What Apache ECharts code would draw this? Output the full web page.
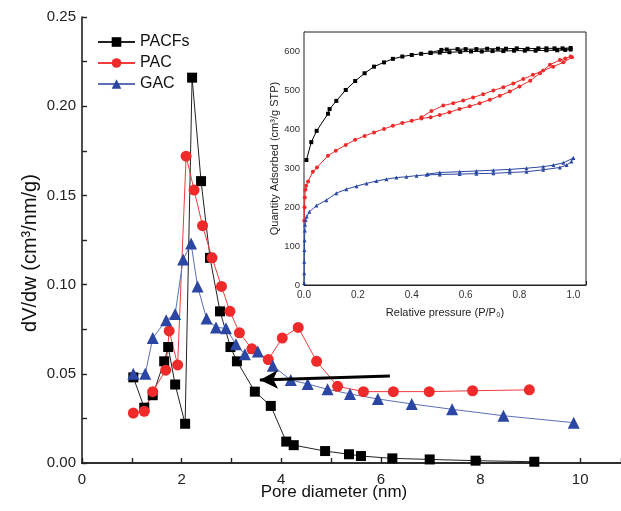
<!DOCTYPE html>
<html><head><meta charset="utf-8">
<script src="https://cdn.jsdelivr.net/npm/echarts@6/dist/echarts.min.js"></script>
<style>html,body{margin:0;padding:0;background:#fff}#c{width:621px;height:511px}</style>
</head><body><div id="c"></div>
<script>
// Main chart: pore size distribution
const pacfsX = [1.03,1.25,1.42,1.65,1.73,1.87,2.07,2.21,2.39,2.57,2.77,2.98,3.11,3.47,3.79,4.10,4.25,4.88,5.36,5.60,6.23,6.98,7.90,9.08];
const pacfsY = [0.048,0.031,0.038,0.057,0.065,0.044,0.022,0.216,0.158,0.115,0.085,0.065,0.057,0.040,0.032,0.012,0.010,0.0067,0.0049,0.0039,0.0026,0.002,0.0013,0.0007];
const pacX = [1.03,1.25,1.42,1.68,1.75,1.92,2.09,2.25,2.42,2.61,2.80,2.97,3.16,3.41,3.74,4.02,4.34,4.71,5.13,5.65,6.25,6.97,7.84,8.98];
const pacY = [0.028,0.029,0.040,0.052,0.074,0.055,0.172,0.153,0.133,0.115,0.099,0.085,0.073,0.064,0.058,0.070,0.076,0.057,0.043,0.040,0.040,0.040,0.0405,0.041];
const gacX = [1.03,1.27,1.42,1.69,1.87,2.03,2.19,2.32,2.50,2.69,2.89,3.09,3.27,3.53,3.83,4.19,4.53,4.93,5.38,5.94,6.62,7.43,8.46,9.87];
const gacY = [0.050,0.050,0.070,0.080,0.0835,0.114,0.123,0.099,0.081,0.076,0.0755,0.0665,0.061,0.0625,0.0545,0.0465,0.0443,0.0413,0.0387,0.0359,0.0331,0.0301,0.0265,0.0226];
const arrowFrom = [6.18, 0.0488];
const arrowTo = [3.57, 0.0465];

// Inset: N2 isotherms
const insPacfsAdsX = [0.009,0.027,0.047,0.089,0.095,0.12,0.155,0.19,0.225,0.26,0.297,0.33,0.365,0.40,0.435,0.47,0.504,0.54,0.58,0.62,0.66,0.70,0.74,0.78,0.82,0.86,0.90,0.94,0.97,0.99];
const insPacfsAdsY = [321,367,396,440,452,473,501,524,544,561,572,581,587,591,594,596,597,598,599,600,600,601,601,602,602,602,603,603,604,605];
const insPacfsDesX = [0.99,0.96,0.93,0.90,0.87,0.83,0.79,0.75,0.72,0.68,0.64,0.60,0.57,0.53,0.51,0.47];
const insPacfsDesY = [609,608,608,608,608,607,608,607,607,607,606,606,606,605,604,597];
const insPacAdsX = [0.001,0.002,0.003,0.005,0.008,0.015,0.033,0.048,0.089,0.118,0.155,0.19,0.225,0.26,0.297,0.33,0.365,0.40,0.436,0.47,0.504,0.54,0.577,0.615,0.652,0.69,0.727,0.764,0.80,0.84,0.876,0.913,0.95,0.97,0.99];
const insPacAdsY = [165,200,225,245,255,266,291,302,332,345,360,373,383,392,401,409,416,422,428,431,437,444,452,459,467,476,486,497,510,525,544,566,578,582,587];
const insPacDesX = [0.995,0.963,0.925,0.888,0.85,0.814,0.777,0.74,0.703,0.665,0.628,0.591,0.554,0.517,0.473,0.436];
const insPacDesY = [585,572,561,551,540,529,518,508,500,490,482,474,467,461,447,431];
const insGacAdsX = [0.0005,0.001,0.001,0.0015,0.002,0.003,0.004,0.006,0.01,0.02,0.046,0.083,0.12,0.157,0.195,0.232,0.269,0.306,0.343,0.38,0.418,0.455,0.504,0.578,0.64,0.703,0.764,0.826,0.888,0.95,0.975,0.993,1.0];
const insGacAdsY = [5,30,60,90,115,140,155,167,176,188,204,218,236,246,254,261,267,272,276,278,281,283,284,285,286,287,289,291,296,302,308,317,326];
const insGacDesX = [1.0,0.963,0.926,0.888,0.826,0.764,0.703,0.64,0.578,0.504,0.46];
const insGacDesY = [326,314,308,304,300,297,295,293,291,289,285];

const zip = (a, b) => a.map((v, i) => [v, b[i]]);
const BLACK = '#000000', RED = '#ee2a2a', BLUE = '#2b47a3';
const FONT = 'Liberation Sans, Arial, sans-serif';

const chart = echarts.init(document.getElementById('c'), null, {renderer: 'canvas'});

function mainSeries(name, xs, ys, sym, size, color, lineColor) {
  return {
    name, type: 'line', xAxisIndex: 0, yAxisIndex: 0, data: zip(xs, ys),
    symbol: sym, symbolSize: size, showAllSymbol: true,
    itemStyle: {color: color}, lineStyle: {color: lineColor, width: 1},
    emphasis: {disabled: true}, animation: false, z: 3
  };
}
function insetSeries(name, xs, ys, sym, color) {
  return {
    name, type: 'line', xAxisIndex: 2, yAxisIndex: 2, data: zip(xs, ys),
    symbol: sym, symbolSize: 4, showAllSymbol: true,
    itemStyle: {color: color}, lineStyle: {color: color, width: 1},
    emphasis: {disabled: true}, animation: false, z: 12
  };
}

const axisCol = '#222';
chart.setOption({
  animation: false,
  backgroundColor: '#fff',
  textStyle: {fontFamily: FONT},
  grid: [
    {left: 82, top: 17, right: 0, bottom: 48},
    {left: 82, top: 17, right: 0, bottom: 48},
    {left: 304, top: 32, width: 282, height: 253, show: true, backgroundColor: '#fff', borderColor: '#222', borderWidth: 1, z: 10}
  ],
  legend: {
    data: ['PACFs', 'PAC', 'GAC'],
    orient: 'vertical', left: 92, top: 29, itemWidth: 37, itemHeight: 12, itemGap: 5,
    textStyle: {fontSize: 16, color: '#111', fontFamily: FONT},
    selectedMode: false
  },
  xAxis: [
    {type: 'value', gridIndex: 0, min: 0, max: 10.82, interval: 2,
     axisLine: {lineStyle: {color: axisCol, width: 1.6}},
     axisTick: {inside: true, length: 5, lineStyle: {color: axisCol, width: 1.4}},
     minorTick: {show: true, splitNumber: 2, length: 5, lineStyle: {color: axisCol, width: 1.4}},
     axisLabel: {fontSize: 15, color: '#222', margin: 9, showMaxLabel: false,
       formatter: v => (Math.abs(v - Math.round(v)) < 1e-6 ? String(Math.round(v)) : '')},
     splitLine: {show: false}},
    {type: 'value', gridIndex: 1, position: 'top', min: 0, max: 10.82,
     axisLine: {show: true, lineStyle: {color: axisCol, width: 1.6}},
     axisTick: {show: false}, axisLabel: {show: false}, splitLine: {show: false}},
    {type: 'value', gridIndex: 2, min: 0, max: 1.047, interval: 0.2,
     axisLine: {lineStyle: {color: axisCol, width: 1}},
     axisTick: {inside: true, length: 4, lineStyle: {color: axisCol}},
     minorTick: {show: true, splitNumber: 2, length: 2, lineStyle: {color: axisCol}},
     axisLabel: {fontSize: 10, color: '#333', margin: 5, showMaxLabel: false,
       formatter: v => (v <= 1.0001 ? v.toFixed(1) : '')},
     splitLine: {show: false},
     name: 'Relative pressure (P/P\u2080)', nameLocation: 'middle', nameGap: 22,
     nameTextStyle: {fontSize: 11, color: '#222'}}
  ],
  yAxis: [
    {type: 'value', gridIndex: 0, min: 0, max: 0.25, interval: 0.05,
     axisLine: {lineStyle: {color: axisCol, width: 1.6}},
     axisTick: {inside: true, length: 5, lineStyle: {color: axisCol, width: 1.4}},
     minorTick: {show: true, splitNumber: 2, length: 5, lineStyle: {color: axisCol, width: 1.4}},
     axisLabel: {fontSize: 15, color: '#222', margin: 6, formatter: v => v.toFixed(2)},
     splitLine: {show: false}},
    {type: 'value', gridIndex: 1, min: 0, max: 0.25, show: false},
    {type: 'value', gridIndex: 2, min: 0, max: 650, interval: 100,
     axisLine: {lineStyle: {color: axisCol, width: 1}},
     axisTick: {inside: true, length: 4, lineStyle: {color: axisCol}},
     minorTick: {show: true, splitNumber: 2, length: 2, lineStyle: {color: axisCol}},
     axisLabel: {fontSize: 9.5, color: '#333', margin: 4, showMaxLabel: false,
       formatter: v => (v <= 600 ? String(v) : '')},
     splitLine: {show: false},
     name: 'Quantity Adsorbed (cm\u00b3/g STP)', nameLocation: 'middle', nameGap: 20,
     nameTextStyle: {fontSize: 11, color: '#222'}}
  ],
  graphic: [
    {type: 'text', x: 334, y: 492, z: 20,
     style: {text: 'Pore diameter (nm)', font: '17px ' + FONT, fill: '#111', textAlign: 'center', textVerticalAlign: 'middle'}},
    {type: 'text', x: 30, y: 253, rotation: Math.PI / 2, z: 20,
     style: {text: 'dV/dw (cm\u00b3/nm/g)', font: '20px ' + FONT, fill: '#111', textAlign: 'center', textVerticalAlign: 'middle'}}
  ],
  series: [
    mainSeries('PACFs', pacfsX, pacfsY, 'rect', 10, BLACK, '#222'),
    mainSeries('PAC', pacX, pacY, 'circle', 11, RED, '#f03c3c'),
    Object.assign(mainSeries('GAC', gacX, gacY, 'triangle', 12, BLUE, '#5b6fb8'), {
      markLine: {
        silent: true, symbol: ['none', 'arrow'], symbolSize: [14, 18],
        label: {show: false},
        lineStyle: {color: '#000', width: 3, type: 'solid'},
        data: [[{coord: arrowFrom}, {coord: arrowTo}]]
      }
    }),
    insetSeries('PACFs ads', insPacfsAdsX, insPacfsAdsY, 'rect', BLACK),
    insetSeries('PACFs des', insPacfsDesX, insPacfsDesY, 'rect', BLACK),
    insetSeries('PAC ads', insPacAdsX, insPacAdsY, 'circle', RED),
    insetSeries('PAC des', insPacDesX, insPacDesY, 'circle', RED),
    insetSeries('GAC ads', insGacAdsX, insGacAdsY, 'triangle', BLUE),
    insetSeries('GAC des', insGacDesX, insGacDesY, 'triangle', BLUE)
  ]
});
</script>
</body></html>
